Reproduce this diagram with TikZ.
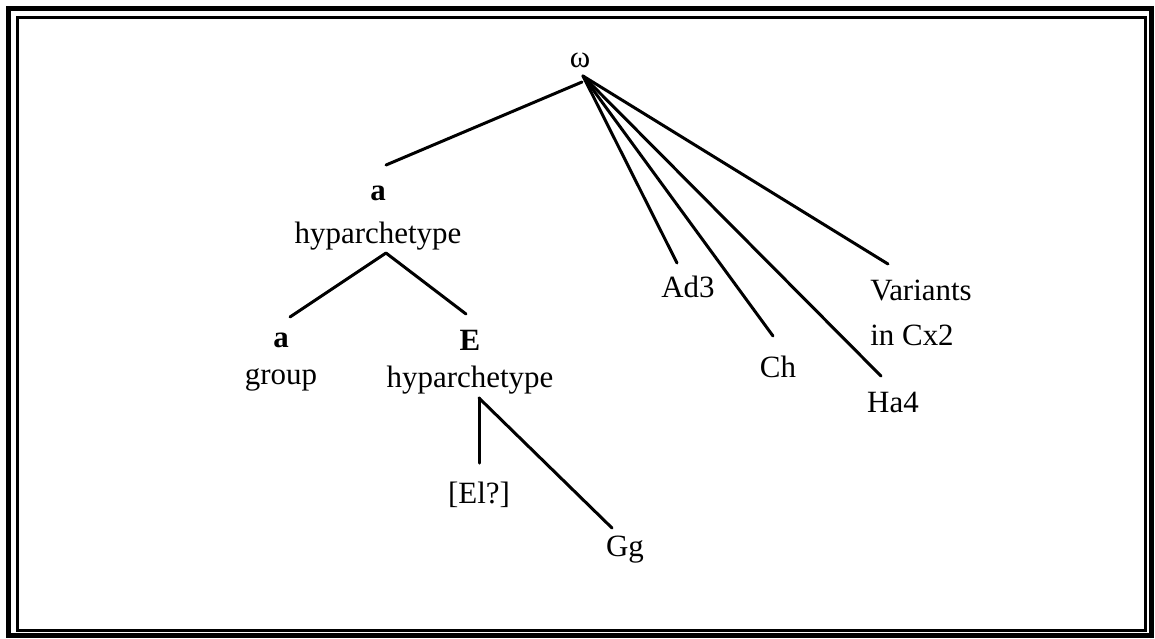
\documentclass[tikz,border=0pt]{standalone}
\usepackage{fontspec}
\setmainfont{Liberation Serif}
\begin{document}
\begin{tikzpicture}[
  x=0.01cm, y=-0.01cm,
  lbl/.style={inner sep=0pt, font=\fontsize{8.8}{12}\selectfont, align=center},
  edge/.style={line width=0.85pt},
  line cap=round
]
  % Frame
  \useasboundingbox (0,0) rectangle (1155,638);
  \draw[line width=1.4pt, line cap=butt] (8.5,8.5) rectangle (1151.5,635.5);
  \draw[line width=0.7pt, line cap=butt] (17.5,17.5) rectangle (1145.5,630.5);

  % Nodes
  \node[lbl] (omega) at (580,60) {ω};

  \node[lbl] (ahyp) at (378,218) {\textbf{a}\\hyparchetype};

  \node[lbl] (agrp) at (281,362.5) {\textbf{a}\\[-1.5pt]group};
  \node[lbl] (Ehyp) at (470,362.5) {\textbf{E}\\[-1.5pt]hyparchetype};

  \node[lbl] (el) at (479,495) {[El?]};
  \node[lbl] (gg) at (625,550) {Gg};

  \node[lbl] (ad3) at (688,287) {Ad3};
  \node[lbl] (ch) at (778,367) {Ch};
  \node[lbl] (ha4) at (893,402) {Ha4};
  \node[lbl, align=left] (var) at (921,313) {Variants\\[0.6pt]in Cx2};

  % Edges
  \draw[edge] ([shift={(2,22)}]omega.center) -- ([shift={(8,-53)}]ahyp.center);
  \draw[edge] ([shift={(3,16)}]omega.center) -- ([shift={(-11,-24)}]ad3.center);
  \draw[edge] ([shift={(3,16)}]omega.center) -- ([shift={(-5,-31)}]ch.center);
  \draw[edge] ([shift={(3,16)}]omega.center) -- ([shift={(-12,-26)}]ha4.center);
  \draw[edge] ([shift={(3,16)}]omega.center) -- ([shift={(-33,-49)}]var.center);

  \draw[edge] ([shift={(8,35)}]ahyp.center) -- ([shift={(9,-45.5)}]agrp.center);
  \draw[edge] ([shift={(8,35)}]ahyp.center) -- ([shift={(-4,-48.5)}]Ehyp.center);

  \draw[edge] ([shift={(9,35.5)}]Ehyp.center) -- ([shift={(0,-32)}]el.center);
  \draw[edge] ([shift={(9,35.5)}]Ehyp.center) -- ([shift={(-13,-22)}]gg.center);
\end{tikzpicture}
\end{document}
